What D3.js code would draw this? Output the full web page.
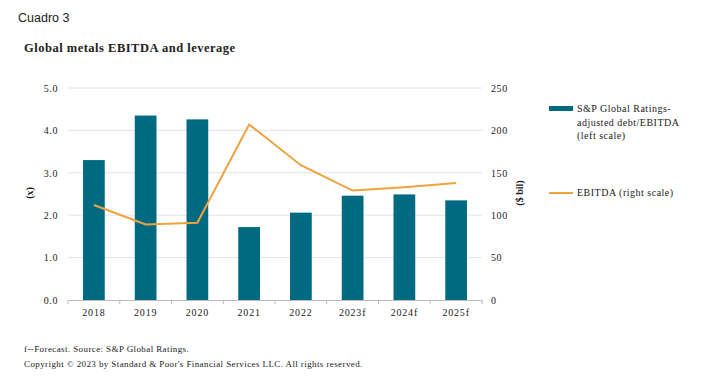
<!DOCTYPE html>
<html>
<head>
<meta charset="utf-8">
<script src="https://cdn.jsdelivr.net/npm/d3@7"></script>
<style>
  body { margin: 0; background: #fff; }
  svg text { font-family: "Liberation Serif", "Times New Roman", serif; fill: #222; }
</style>
</head>
<body>
<div id="chart-area"></div>
<script>
// chart data
const years = ["2018", "2019", "2020", "2021", "2022", "2023f", "2024f", "2025f"]
const leverage = [3.3, 4.35, 4.26, 1.72, 2.06, 2.46, 2.49, 2.35]
const ebitda = [112, 89, 91, 207, 159, 129, 133, 138]
const leftTicks = [0, 1, 2, 3, 4, 5]
const rightTicks = [0, 50, 100, 150, 200, 250]

const W = 715, H = 386
const MARGIN = { LEFT: 68, RIGHT: 233, TOP: 88, BOTTOM: 86 }
const WIDTH = W - MARGIN.LEFT - MARGIN.RIGHT
const HEIGHT = H - MARGIN.TOP - MARGIN.BOTTOM

const BAR_COLOR = "#006a83"
const LINE_COLOR = "#f0a23e"

const svg = d3.select("#chart-area").append("svg")
  .attr("width", W)
  .attr("height", H)

// header
svg.append("text")
  .attr("x", 18).attr("y", 22)
  .style("font-family", "'Liberation Sans', Arial, sans-serif")
  .style("font-size", "12.5px")
  .text("Cuadro 3")

svg.append("text")
  .attr("x", 24).attr("y", 52)
  .style("font-size", "12.5px")
  .style("font-weight", "bold")
  .style("letter-spacing", "0.5px")
  .text("Global metals EBITDA and leverage")

const g = svg.append("g")
  .attr("transform", `translate(${MARGIN.LEFT}, ${MARGIN.TOP})`)

// scales
const x = d3.scaleBand().domain(years).range([0, WIDTH]).paddingInner(0.58).paddingOuter(0.29)
const xb = d3.scaleBand().domain(years).range([0, WIDTH])
const yL = d3.scaleLinear().domain([0, 5]).range([HEIGHT, 0])
const yR = d3.scaleLinear().domain([0, 250]).range([HEIGHT, 0])

// gridlines
g.append("g").selectAll("line")
  .data(leftTicks.slice(1))
  .join("line")
  .attr("x1", 0).attr("x2", WIDTH)
  .attr("y1", d => yL(d)).attr("y2", d => yL(d))
  .attr("stroke", "#e4e4e4")
  .attr("stroke-width", 1)

// left axis
const yAxisL = g.append("g")
  .call(d3.axisLeft(yL).tickValues(leftTicks).tickFormat(d3.format(".1f")).tickSize(0).tickPadding(10))
yAxisL.select(".domain").remove()
yAxisL.selectAll("text").style("font-size", "10px").style("letter-spacing", "0.6px").attr("fill", "#333")

// right axis
const yAxisR = g.append("g")
  .attr("transform", `translate(${WIDTH}, 0)`)
  .call(d3.axisRight(yR).tickValues(rightTicks).tickSize(0).tickPadding(9))
yAxisR.select(".domain").remove()
yAxisR.selectAll("text").style("font-size", "10px").style("letter-spacing", "0.6px").attr("fill", "#333")

// bars
g.append("g").selectAll("rect")
  .data(years)
  .join("rect")
  .attr("x", d => x(d))
  .attr("width", x.bandwidth())
  .attr("y", (d, i) => yL(leverage[i]))
  .attr("height", (d, i) => HEIGHT - yL(leverage[i]))
  .attr("fill", BAR_COLOR)

// bottom axis
const xAxis = g.append("g")
  .attr("transform", `translate(0, ${HEIGHT})`)
  .call(d3.axisBottom(xb).tickSize(0).tickPadding(9))
xAxis.select(".domain").attr("stroke", "#bbb")
xAxis.selectAll("text").style("font-size", "10px").style("letter-spacing", "0.8px").attr("fill", "#333")
xAxis.append("g").selectAll("line")
  .data(d3.range(years.length + 1))
  .join("line")
  .attr("x1", i => i * xb.step()).attr("x2", i => i * xb.step())
  .attr("y1", 0).attr("y2", 4)
  .attr("stroke", "#bbb")

// line
const line = d3.line()
  .x((d, i) => xb(years[i]) + xb.bandwidth() / 2)
  .y(d => yR(d))
g.append("path")
  .attr("fill", "none")
  .attr("stroke", LINE_COLOR)
  .attr("stroke-width", 2)
  .attr("d", line(ebitda))

// axis titles
svg.append("text")
  .attr("transform", "translate(33, 193) rotate(-90)")
  .attr("text-anchor", "middle")
  .style("font-size", "10px")
  .style("font-weight", "bold")
  .text("(x)")

svg.append("text")
  .attr("transform", "translate(523, 193) rotate(-90)")
  .attr("text-anchor", "middle")
  .style("font-size", "10px")
  .style("font-weight", "bold")
  .text("($ bil)")

// legend
const leg = svg.append("g")
leg.append("rect")
  .attr("x", 549).attr("y", 106).attr("width", 24).attr("height", 5)
  .attr("fill", BAR_COLOR)
const legText = leg.append("text")
  .attr("x", 577).attr("y", 112)
  .style("font-size", "10px").style("letter-spacing", "0.5px")
;["S&P Global Ratings-", "adjusted debt/EBITDA", "(left scale)"].forEach((t, i) => {
  legText.append("tspan").attr("x", 577).attr("dy", i === 0 ? 0 : 13.5).text(t)
})
leg.append("line")
  .attr("x1", 549).attr("x2", 573).attr("y1", 193).attr("y2", 193)
  .attr("stroke", LINE_COLOR).attr("stroke-width", 2)
leg.append("text")
  .attr("x", 577).attr("y", 196)
  .style("font-size", "10px").style("letter-spacing", "0.5px")
  .text("EBITDA (right scale)")

// footer
svg.append("text")
  .attr("x", 24).attr("y", 352)
  .style("font-size", "9px").style("letter-spacing", "0.4px")
  .text("f--Forecast. Source: S&P Global Ratings.")
svg.append("text")
  .attr("x", 24).attr("y", 367)
  .style("font-size", "9px").style("letter-spacing", "0.4px")
  .text("Copyright \u00a9 2023 by Standard & Poor's Financial Services LLC. All rights reserved.")
</script>
</body>
</html>
